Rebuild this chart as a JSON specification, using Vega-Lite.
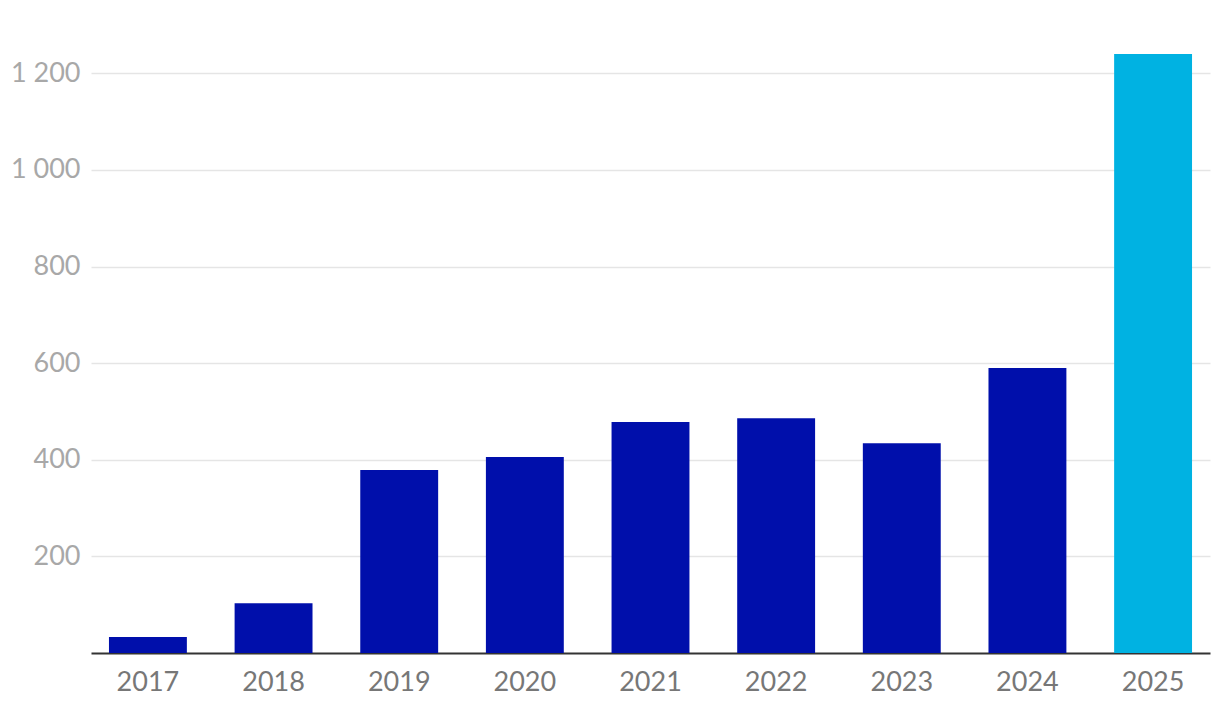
{
  "$schema": "https://vega.github.io/schema/vega-lite/v6.json",
  "width": 1119,
  "height": 599,
  "autosize": "none",
  "padding": {"left": 91, "top": 54, "right": 10, "bottom": 63},
  "background": "white",
  "config": {"view": {"stroke": null}, "font": "Lato"},
  "data": {"values": [
    {"year": "2017", "value": 33, "highlight": "no"},
    {"year": "2018", "value": 103, "highlight": "no"},
    {"year": "2019", "value": 379, "highlight": "no"},
    {"year": "2020", "value": 406, "highlight": "no"},
    {"year": "2021", "value": 478, "highlight": "no"},
    {"year": "2022", "value": 486, "highlight": "no"},
    {"year": "2023", "value": 434, "highlight": "no"},
    {"year": "2024", "value": 590, "highlight": "no"},
    {"year": "2025", "value": 1240, "highlight": "yes"}
  ]},
  "mark": {"type": "bar"},
  "encoding": {
    "x": {
      "field": "year", "type": "ordinal",
      "scale": {"paddingInner": 0.38, "paddingOuter": 0.143},
      "axis": {
        "title": null, "labelAngle": 0, "ticks": false, "domainColor": "#333333", "domainWidth": 2,
        "labelFont": "Lato", "labelFontSize": 27, "labelColor": "#777777", "labelPadding": 16
      }
    },
    "y": {
      "field": "value", "type": "quantitative",
      "scale": {"domain": [0, 1240], "nice": false},
      "axis": {
        "title": null, "values": [200, 400, 600, 800, 1000, 1200], "ticks": false, "domain": false,
        "gridColor": "#e5e5e5", "gridWidth": 1.5,
        "labelFont": "Lato", "labelFontSize": 27, "labelColor": "#a8a8a8", "labelPadding": 11,
        "labelExpr": "replace(format(datum.value, ','), ',', ' ')"
      }
    },
    "color": {
      "field": "highlight", "type": "nominal",
      "scale": {"domain": ["no", "yes"], "range": ["#000fab", "#00b2e2"]},
      "legend": null
    }
  }
}
